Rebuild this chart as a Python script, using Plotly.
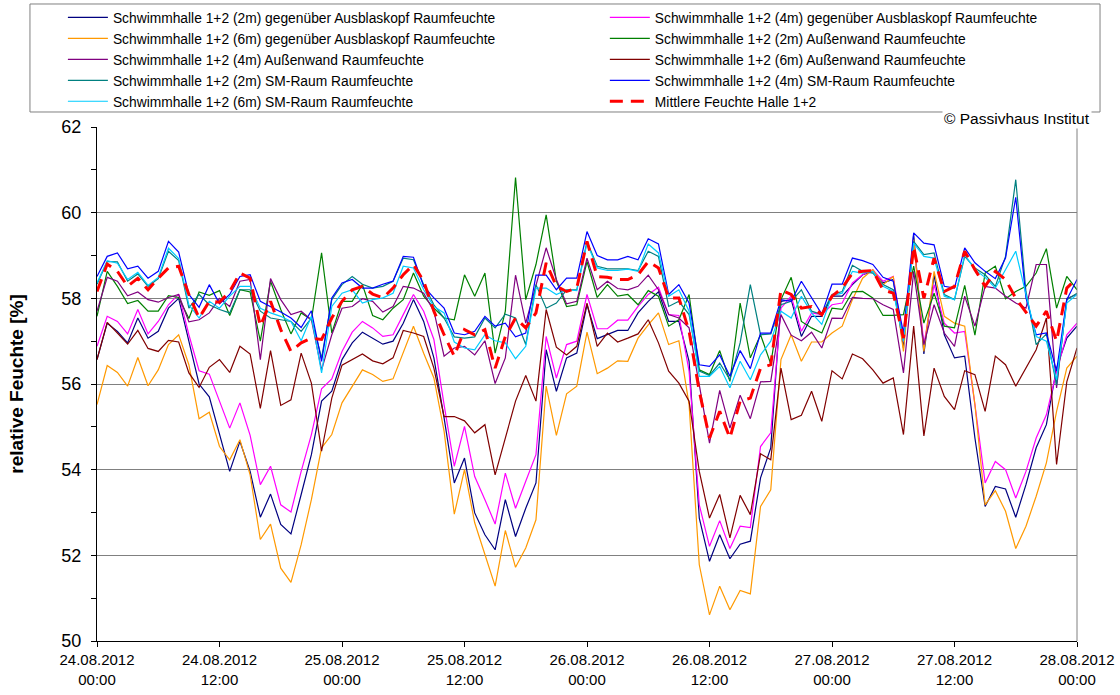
import pandas as pd
import plotly.graph_objects as go

# hourly values 24.08.2012 00:00 .. 28.08.2012 00:00 (97 points)
times = pd.date_range("2012-08-24 00:00", periods=97, freq="h")

gg_2m = [56.57, 57.42, 57.23, 56.96, 57.54, 57.07, 57.23, 57.77, 58.0, 57.0, 56.0, 55.7, 54.8, 53.96, 54.66, 53.96,
         52.89, 53.43, 52.72, 52.5, 53.42, 54.35, 55.6, 55.83, 56.57, 56.96, 57.21, 57.07, 56.93, 57.0, 57.42, 57.97,
         57.46, 56.61, 55.21, 53.69, 54.27, 52.99, 52.48, 52.13, 53.3, 52.44, 53.1, 53.69, 56.8, 55.83, 56.61,
         56.72, 57.85, 57.06, 57.15, 57.25, 57.25, 57.66, 57.93, 58.15, 57.46, 57.46, 56.53, 52.87, 51.86, 52.48, 51.92,
         52.26, 52.33, 53.81, 54.51, 57.93, 57.97, 57.11, 57.58, 57.58, 58.05, 58.05, 58.32, 58.55, 58.63, 58.36,
         58.44, 56.84, 59.49, 56.7, 58.55, 57.15, 56.61, 56.65, 54.74, 53.14, 53.61, 53.55, 52.89, 53.65, 54.51, 55.05, 56.37, 57.07, 57.35]

gg_4m = [56.88, 57.58, 57.46, 57.17, 57.74, 57.17, 57.46, 57.85, 58.1, 57.15, 56.31, 56.23, 55.6, 54.97, 55.56, 54.8,
         53.65, 54.08, 53.18, 53.01, 53.96, 54.82, 55.89, 56.12, 56.76, 57.21, 57.46, 57.31, 57.11, 57.15, 57.62, 58.09,
         57.7, 57.04, 55.52, 54.08, 55.01, 53.84, 53.3, 52.73, 53.92, 53.1, 53.73, 54.35, 57.11, 56.14, 56.92,
         57.0, 58.09, 57.29, 57.29, 57.49, 57.49, 57.81, 58.09, 58.26, 57.62, 57.6, 56.3, 53.18, 52.21, 52.81, 52.16,
         52.68, 52.65, 54.54, 54.86, 57.77, 58.05, 57.23, 57.66, 57.62, 57.85, 57.89, 58.36, 58.55, 58.67, 58.4,
         58.51, 57.0, 59.33, 56.92, 58.32, 57.42, 57.19, 57.23, 55.52, 53.69, 54.19, 54.0, 53.34, 53.96, 54.74, 55.28, 56.3, 57.15, 57.42]

gg_6m = [55.52, 56.43, 56.27, 55.95, 56.62, 55.96, 56.33, 56.92, 57.15, 56.45, 55.19, 55.34, 54.54, 54.23, 54.7, 53.88,
         52.37, 52.73, 51.7, 51.37, 52.25, 53.3, 54.51, 54.82, 55.56, 55.95, 56.33, 56.22, 56.06, 56.12, 56.76, 57.35,
         56.72, 56.14, 54.9, 52.96, 54.0, 52.76, 52.02, 51.28, 52.58, 51.72, 52.17, 52.83, 55.95, 54.8, 55.77,
         55.95, 57.21, 56.24, 56.37, 56.54, 56.53, 57.07, 57.38, 57.66, 56.92, 57.01, 55.52, 51.78, 50.61, 51.28, 50.73,
         51.18, 51.1, 53.14, 53.53, 56.57, 57.15, 56.53, 56.98, 56.98, 57.19, 57.35, 57.97, 58.47, 58.67, 58.32,
         58.51, 56.76, 59.37, 56.76, 58.63, 57.58, 57.42, 57.35, 55.52, 53.18, 53.51, 53.03, 52.16, 52.68, 53.38, 54.16, 55.36, 56.37, 56.65]

aw_2m = [57.58, 58.63, 58.28, 57.88, 57.95, 57.7, 57.7, 58.06, 58.02, 57.53, 58.15, 58.07, 58.18, 57.6, 58.2, 58.15,
         57.0, 58.4, 57.74, 57.17, 57.66, 57.5, 59.06, 57.19, 57.93, 57.93, 58.32, 57.6, 57.5, 57.77, 57.97, 58.59,
         58.05, 57.77, 57.54, 57.5, 58.55, 58.05, 58.59, 56.72, 57.7, 60.82, 57.97, 58.79, 59.95, 58.4, 57.81,
         57.85, 58.86, 58.02, 58.32, 58.05, 58.09, 57.85, 58.18, 58.05, 57.35, 57.5, 58.09, 56.33, 56.22, 56.78, 56.06,
         57.89, 56.61, 57.15, 56.47, 57.97, 58.49, 57.46, 57.31, 57.19, 57.77, 57.74, 58.15, 58.16, 58.01, 57.6,
         57.6, 57.62, 58.75, 57.42, 58.12, 57.35, 57.31, 58.3, 57.14, 58.59, 58.75, 57.99, 58.16, 58.28, 58.59, 59.16, 57.77, 58.51, 58.2]

aw_4m = [57.7, 58.49, 58.4, 58.06, 58.15, 57.97, 57.91, 58.02, 58.09, 57.45, 57.5, 57.66, 58.0, 57.81, 58.4, 58.44,
         56.57, 58.46, 57.97, 57.62, 57.7, 57.5, 56.33, 57.15, 57.77, 57.81, 57.99, 57.93, 57.68, 57.81, 58.28, 58.24,
         58.12, 57.7, 56.65, 56.84, 56.88, 56.68, 57.01, 56.01, 56.61, 58.54, 57.42, 58.32, 59.18, 58.44, 57.87,
         57.93, 58.94, 58.2, 58.4, 58.23, 58.2, 58.28, 58.54, 58.2, 57.62, 57.54, 57.31, 55.98, 54.62, 55.85, 54.97,
         55.74, 55.19, 56.05, 56.06, 57.62, 57.14, 57.01, 57.21, 56.84, 57.54, 57.53, 58.02, 58.0, 57.99, 57.85,
         57.74, 56.26, 58.63, 56.92, 57.85, 57.19, 56.88, 58.05, 57.35, 58.28, 58.24, 58.05, 57.89, 57.77, 58.79, 58.79, 55.91, 58.0, 58.09]

aw_6m = [56.57, 57.44, 57.19, 56.93, 57.25, 56.83, 56.76, 57.02, 56.98, 56.26, 55.92, 56.39, 56.57, 56.27, 56.88, 56.7,
         55.43, 56.78, 55.5, 55.63, 56.72, 56.02, 54.43, 55.67, 56.44, 56.57, 56.7, 56.54, 56.47, 56.61, 57.25, 57.19,
         57.11, 56.37, 55.24, 55.24, 55.14, 54.86, 55.05, 53.88, 54.74, 55.6, 56.2, 55.6, 57.74, 56.86, 56.68,
         56.88, 57.89, 56.88, 57.19, 56.98, 57.07, 57.17, 57.5, 56.96, 56.3, 56.02, 55.6, 53.96, 52.87, 53.42, 52.41,
         53.4, 52.95, 54.37, 54.23, 56.37, 55.17, 55.27, 55.83, 55.13, 56.31, 56.12, 56.7, 56.59, 56.33, 56.02,
         56.14, 54.82, 57.35, 54.79, 56.37, 55.71, 55.4, 56.31, 56.22, 55.36, 56.65, 56.45, 55.95, 56.37, 56.8, 57.54, 54.12, 56.05, 56.84]

sm_2m = [58.33, 58.86, 58.85, 58.4, 58.57, 58.28, 58.46, 59.1, 58.88, 57.77, 58.09, 57.85, 57.74, 57.66, 58.2, 58.2,
         57.7, 57.54, 57.5, 57.46, 57.23, 57.54, 56.61, 57.97, 58.32, 58.51, 58.33, 58.24, 58.28, 58.4, 58.94, 58.9,
         58.32, 57.85, 57.54, 57.1, 57.07, 57.1, 57.54, 57.31, 57.63, 57.54, 56.92, 58.32, 57.77, 57.89, 58.2,
         58.2, 59.33, 58.75, 58.69, 58.69, 58.69, 58.65, 59.1, 58.98, 57.81, 57.93, 57.62, 56.3, 56.2, 56.49, 56.1,
         56.96, 58.32, 57.15, 57.17, 57.85, 57.93, 58.2, 57.7, 57.62, 58.09, 58.16, 58.77, 58.63, 58.59, 58.32,
         58.2, 57.03, 59.33, 59.02, 59.06, 58.09, 57.97, 58.98, 58.71, 58.55, 58.28, 58.98, 60.77, 58.16, 56.92, 57.17, 55.98, 57.97, 58.12]

sm_4m = [58.51, 58.98, 59.06, 58.69, 58.75, 58.47, 58.63, 59.33, 59.08, 58.09, 57.79, 58.32, 57.87, 58.09, 58.51, 58.55,
         57.93, 57.81, 57.68, 57.54, 57.32, 57.71, 56.53, 58.01, 58.36, 58.44, 58.24, 58.24, 58.33, 58.4, 58.98, 58.96,
         58.28, 58.01, 57.77, 57.19, 57.15, 57.23, 57.58, 57.35, 57.42, 57.1, 57.19, 58.54, 58.54, 58.2, 58.47,
         58.47, 59.56, 59.0, 58.9, 58.9, 58.98, 58.9, 59.39, 59.27, 58.09, 58.32, 57.89, 56.45, 56.41, 56.68, 56.18,
         56.78, 56.36, 57.19, 57.19, 57.97, 57.93, 58.4, 58.01, 57.63, 58.33, 58.33, 58.94, 58.88, 58.79, 58.49,
         58.4, 57.19, 59.53, 59.29, 59.25, 58.28, 58.24, 59.18, 58.83, 58.63, 58.46, 58.94, 60.36, 58.01, 57.15, 57.19, 56.3, 57.97, 58.44]

sm_6m = [58.36, 58.88, 58.82, 58.44, 58.61, 58.3, 58.49, 59.17, 58.93, 57.85, 57.54, 57.93, 57.77, 58.05, 58.28, 58.28,
         57.77, 57.66, 57.58, 57.46, 57.01, 57.58, 56.26, 57.81, 58.12, 58.2, 57.89, 57.97, 58.01, 58.12, 58.75, 58.71,
         58.2, 57.81, 57.66, 56.98, 56.84, 56.8, 57.15, 57.01, 56.96, 56.59, 56.88, 58.24, 58.24, 58.09, 58.2,
         58.18, 59.29, 58.71, 58.65, 58.65, 58.68, 58.63, 59.27, 59.06, 58.05, 58.2, 57.7, 56.18, 56.18, 56.41, 55.91,
         56.53, 56.1, 56.68, 57.0, 57.7, 57.54, 58.05, 57.66, 57.39, 58.07, 58.12, 58.63, 58.59, 58.63, 58.28,
         58.16, 57.0, 59.29, 58.98, 58.94, 58.05, 57.97, 59.02, 58.67, 58.49, 58.24, 58.67, 59.1, 58.09, 57.11, 57.0, 56.1, 57.89, 58.09]

mittel = [58.16, 58.8, 58.63, 58.28, 58.47, 58.2, 58.47, 58.71, 58.75, 58.09, 57.54, 57.93, 57.91, 58.16, 58.59, 58.47,
          57.35, 57.93, 57.27, 56.76, 56.96, 57.07, 57.04, 57.54, 57.93, 58.2, 58.28, 58.1, 58.01, 58.24, 58.55, 58.79,
          58.4, 57.7, 57.15, 56.65, 57.27, 57.15, 57.27, 56.37, 57.11, 57.54, 57.31, 57.66, 58.83, 58.28, 58.16,
          58.24, 59.33, 58.51, 58.49, 58.44, 58.44, 58.55, 58.86, 58.71, 58.01, 58.01, 57.23, 55.83, 54.74, 55.36, 54.74,
          55.6, 55.67, 56.37, 56.45, 58.2, 58.09, 57.77, 57.81, 57.62, 58.05, 58.24, 58.59, 58.63, 58.65, 58.2,
          58.12, 57.07, 59.21, 58.0, 58.94, 58.16, 58.28, 59.1, 58.67, 58.28, 58.63, 58.44, 58.0, 57.66, 57.35, 57.7, 57.0, 58.24, 58.47]

tick_vals = ["2012-08-24 00:00", "2012-08-24 12:00", "2012-08-25 00:00", "2012-08-25 12:00", "2012-08-26 00:00",
             "2012-08-26 12:00", "2012-08-27 00:00", "2012-08-27 12:00", "2012-08-28 00:00"]
tick_text = ["24.08.2012<br>00:00", "24.08.2012<br>12:00", "25.08.2012<br>00:00", "25.08.2012<br>12:00",
             "26.08.2012<br>00:00", "26.08.2012<br>12:00", "27.08.2012<br>00:00", "27.08.2012<br>12:00",
             "28.08.2012<br>00:00"]

# (name, values, colour, legend column)
series = [
    ("Schwimmhalle 1+2 (2m) gegenüber Ausblaskopf Raumfeuchte", gg_2m, "#000080", "legend"),
    ("Schwimmhalle 1+2 (4m) gegenüber Ausblaskopf Raumfeuchte", gg_4m, "#FF00FF", "legend2"),
    ("Schwimmhalle 1+2 (6m) gegenüber Ausblaskopf Raumfeuchte", gg_6m, "#FF9900", "legend"),
    ("Schwimmhalle 1+2 (2m) Außenwand Raumfeuchte", aw_2m, "#008000", "legend2"),
    ("Schwimmhalle 1+2 (4m) Außenwand Raumfeuchte", aw_4m, "#800080", "legend"),
    ("Schwimmhalle 1+2 (6m) Außenwand Raumfeuchte", aw_6m, "#800000", "legend2"),
    ("Schwimmhalle 1+2 (2m) SM-Raum Raumfeuchte", sm_2m, "#008080", "legend"),
    ("Schwimmhalle 1+2 (4m) SM-Raum Raumfeuchte", sm_4m, "#0000FF", "legend2"),
    ("Schwimmhalle 1+2 (6m) SM-Raum Raumfeuchte", sm_6m, "#00CCFF", "legend"),
]

fig = go.Figure()
for name, vals, col, leg in series:
    fig.add_trace(go.Scatter(x=times, y=vals, mode="lines", name=name, legend=leg,
                             line=dict(color=col, width=1.2)))
fig.add_trace(go.Scatter(x=times, y=mittel, mode="lines", name="Mittlere Feuchte Halle 1+2", legend="legend2",
                         line=dict(color="#FF0000", width=3, dash="13px,8px")))

leg_style = dict(orientation="v", xanchor="left", yanchor="top", borderwidth=0,
                 bgcolor="rgba(0,0,0,0)", itemwidth=40, font=dict(size=13.8), traceorder="normal")

fig.update_layout(
    width=1120, height=695,
    margin=dict(l=97, r=43, t=127, b=54, autoexpand=False),
    paper_bgcolor="white", plot_bgcolor="white",
    font=dict(family="Liberation Sans, Arial, sans-serif", color="black", size=14),
    showlegend=True,
    legend=dict(x=-0.0348, y=1.2432, **leg_style),
    legend2=dict(x=0.5182, y=1.2432, **leg_style),
    shapes=[
        # legend frame
        dict(type="rect", xref="paper", yref="paper", x0=-0.0684, x1=1.0235, y0=1.0292, y1=1.2393,
             line=dict(color="#808080", width=1), fillcolor="rgba(0,0,0,0)"),
        # right border of plot area
        dict(type="line", xref="paper", yref="paper", x0=1, x1=1, y0=0, y1=1,
             line=dict(color="#808080", width=1)),
    ],
    annotations=[dict(text="© Passivhaus Institut", xref="paper", yref="paper",
                      x=1.0155, y=1.0156, xanchor="right", yanchor="middle", borderpad=1,
                      showarrow=False, bgcolor="white", font=dict(size=15.5))],
)

fig.update_xaxes(range=[tick_vals[0], tick_vals[-1]], tickvals=tick_vals, ticktext=tick_text,
                 showgrid=False, showline=True, linecolor="black", linewidth=1,
                 ticks="outside", ticklen=5, tickcolor="black", tickfont=dict(size=15))
fig.update_yaxes(range=[50, 62], dtick=2, tick0=50, showgrid=True, gridcolor="#808080", gridwidth=1,
                 showline=True, linecolor="black", linewidth=1, zeroline=False,
                 ticks="outside", ticklen=5, tickcolor="black", tickfont=dict(size=18),
                 ticklabelstandoff=6,
                 minor=dict(dtick=1, ticks="outside", ticklen=5, tickcolor="black", showgrid=False),
                 title=dict(text="<b>relative Feuchte [%]</b>", font=dict(size=19), standoff=32))

# drop the page's default body margin so the figure sits at the window's top-left corner
fig.write_html("out.html", config={"displayModeBar": False},
               post_script="document.body.style.margin='0';document.body.style.overflow='hidden';")
